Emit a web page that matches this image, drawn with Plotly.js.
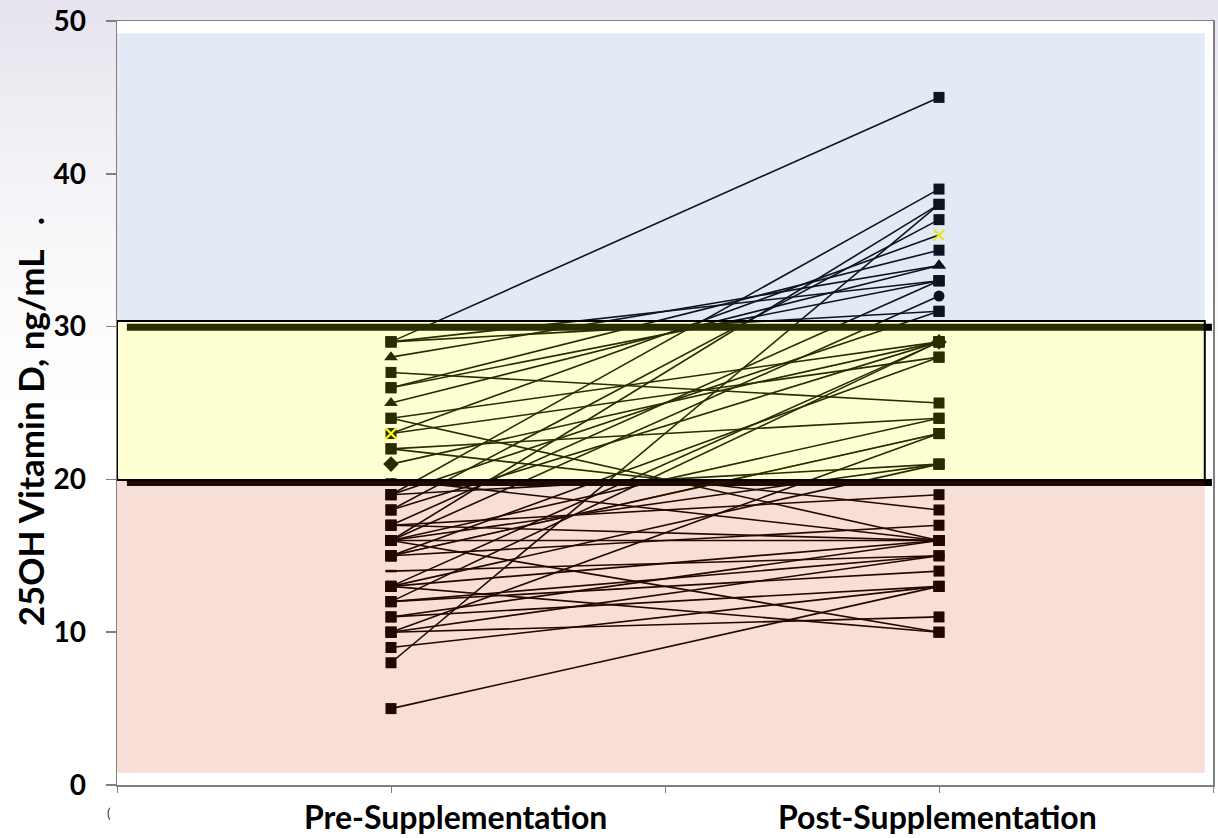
<!DOCTYPE html>
<html>
<head>
<meta charset="utf-8">
<script src="https://cdn.plot.ly/plotly-3.0.1.min.js"></script>
<style>
  html, body { margin: 0; padding: 0; }
  body { width: 1218px; height: 838px; overflow: hidden;
         background: linear-gradient(to bottom, #e7e3ee 0px, #f3f1f6 160px, #fbfbfc 300px, #ffffff 420px); }
  #chart { width: 1218px; height: 838px; }
</style>
</head>
<body>
<div id="chart"></div>
<script>
// ---- data ----
const categories = ["Pre-Supplementation", "Post-Supplementation"];
const preValues  = [29,29,29,28,27,26,26,25,24,24,23,23,22,22,21,20,19,19,19,18,18,17,17,17,16,16,16,16,16,16,15,15,15,15,14,13,13,13,13,12,12,12,11,11,10,10,9,8,5,10];
const postValues = [45,33,31,34,25,35,33,34,29,16,36,28,24,18,29,16,39,31,21,37,29,33,19,16,38,32,24,21,16,10,23,28,23,17,15,29,21,10,16,29,15,14,16,13,11,23,13,38,13,15];
const yTickValues = [0, 10, 20, 30, 40, 50];
const thresholds = [20, 30];
const yAxisTitle = "25OH Vitamin D, ng/mL\u00a0\u00a0\u00a0.";

// ---- styles (marker kind per patient series) ----
const markerKind = preValues.map(() => "square");
markerKind[3] = "triangle"; markerKind[7] = "triangle";
markerKind[10] = "x"; markerKind[14] = "diamond";
markerKind[15] = "dash"; markerKind[34] = "dash";
markerKind[25] = "circle";
const oliveLine = new Set([30]);

const xPos = [0.5, 1.5];

function markerFor(kind) {
  switch (kind) {
    case "triangle": return {symbol: "triangle-up", size: 12, color: "#000"};
    case "diamond":  return {symbol: "diamond", size: 12, color: "#000"};
    case "circle":   return {symbol: "circle", size: 11, color: "#000"};
    case "dash":     return {symbol: "line-ew-open", size: 8, color: "#000", line: {color: "#000", width: 2.5}};
    case "x":        return {symbol: "x-thin-open", size: 11, color: "#ffff00", line: {color: "#ffff00", width: 2.2}};
    default:         return {symbol: "square", size: 11, color: "#000"};
  }
}

const order = preValues.map((_, i) => i);
order.sort((a, b) => (markerKind[a] === "square" ? 0 : 1) - (markerKind[b] === "square" ? 0 : 1));

const traces = order.map(i => ({
  type: "scatter",
  mode: "lines+markers",
  x: xPos,
  y: [preValues[i], postValues[i]],
  line: {color: oliveLine.has(i) ? "#6a6a00" : "#000000", width: 1.6},
  marker: markerFor(markerKind[i]),
  showlegend: false,
  hoverinfo: "skip"
}));

const shapes = [
  // thick threshold lines (under the colored bands)
  {type: "line", layer: "below", xref: "x", yref: "y", x0: 0.018, x1: 1.998, y0: thresholds[1] - 0.05, y1: thresholds[1] - 0.05, line: {color: "#000", width: 7}},
  {type: "line", layer: "below", xref: "x", yref: "y", x0: 0.018, x1: 1.998, y0: thresholds[0] - 0.2, y1: thresholds[0] - 0.2, line: {color: "#000", width: 7}},
  // translucent bands drawn over the data
  {type: "rect", layer: "above", xref: "x", yref: "y", x0: 0, x1: 1.985, y0: 30.37, y1: 49.2, fillcolor: "rgba(81,124,199,0.16)", line: {width: 0}},
  {type: "rect", layer: "above", xref: "x", yref: "y", x0: 0, x1: 1.985, y0: 0.8, y1: 19.96, fillcolor: "rgba(204,51,0,0.157)", line: {width: 0}},
  {type: "rect", layer: "above", xref: "x", yref: "y", x0: 0, x1: 1.985, y0: 19.96, y1: 30.37, fillcolor: "rgba(255,255,0,0.17)", line: {color: "#000", width: 2}}
];

const labelFont = {family: "Lato, 'Open Sans', sans-serif", size: 32, color: "#000", weight: 700};

const annotations = [
  {xref: "paper", yref: "y", x: -0.0794, y: 23.8, xanchor: "center", yanchor: "middle",
   text: yAxisTitle, textangle: -90, showarrow: false,
   font: {family: "Lato, 'Open Sans', sans-serif", size: 35, color: "#000", weight: 700}},
  {xref: "paper", yref: "paper", x: (455 - 117) / 1096, y: (785 - 816) / 764, xanchor: "center", yanchor: "middle",
   text: categories[0], showarrow: false, font: labelFont},
  {xref: "paper", yref: "paper", x: (937 - 117) / 1096, y: (785 - 816) / 764, xanchor: "center", yanchor: "middle",
   text: categories[1], showarrow: false, font: labelFont},
  {xref: "paper", yref: "paper", x: (109 - 117) / 1096, y: (785 - 813) / 764, xanchor: "center", yanchor: "middle",
   text: "(", showarrow: false, font: {family: "Lato, sans-serif", size: 13, color: "#333"}}
];

const layout = {
  width: 1218, height: 838,
  margin: {l: 117, r: 5, t: 21, b: 53, pad: 0},
  paper_bgcolor: "rgba(0,0,0,0)",
  plot_bgcolor: "#ffffff",
  showlegend: false,
  xaxis: {
    range: [0, 2], tickmode: "array", tickvals: [0, 0.5, 1, 1.5, 2], ticktext: ["", "", "", "", ""],
    ticks: "outside", ticklen: 6, tickcolor: "#7f7f7f", tickwidth: 1,
    showline: true, linecolor: "#7f7f7f", linewidth: 1.5, mirror: true,
    showgrid: false, zeroline: false, fixedrange: true
  },
  yaxis: {
    range: [0, 50], tickmode: "array", tickvals: yTickValues, ticktext: yTickValues.map(String),
    ticks: "outside", ticklen: 10, tickcolor: "#7f7f7f", tickwidth: 1.5,
    ticklabelstandoff: 14,
    tickfont: {family: "Lato, 'Open Sans', sans-serif", size: 28, color: "#000", weight: 700},
    showline: true, linecolor: "#7f7f7f", linewidth: 1.5, mirror: true,
    showgrid: false, zeroline: false, fixedrange: true
  },
  shapes: shapes,
  annotations: annotations
};

Plotly.newPlot("chart", traces, layout, {displayModeBar: false, staticPlot: true});
</script>
</body>
</html>
